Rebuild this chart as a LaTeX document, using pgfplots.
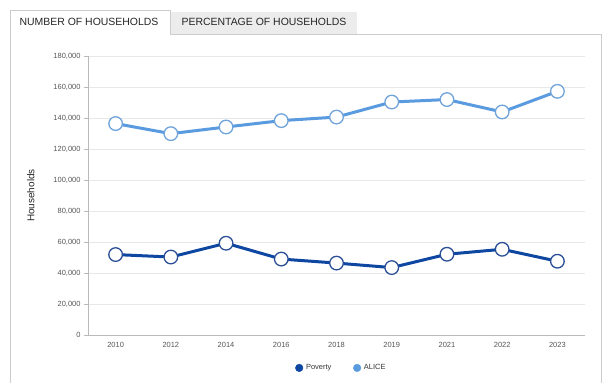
\documentclass[border=0pt]{standalone}
\usepackage{pgfplots}
\pgfplotsset{compat=1.18}
\usepackage{fontspec}
\setmainfont{Liberation Sans}
\definecolor{pov}{HTML}{0D47A1}
\definecolor{povmark}{HTML}{2B4F96}
\definecolor{alice}{HTML}{5A9BE0}
\definecolor{alicemark}{HTML}{6FA3DA}
\definecolor{tickc}{HTML}{555555}
\definecolor{framec}{HTML}{CCCCCC}
\begin{document}
\begin{tikzpicture}[x=1bp,y=1bp]
\path[use as bounding box] (0,0) rectangle (607,383);
% tabs and panel
\fill[gray!15] (171,349) rectangle (357,371);
\draw[framec, line width=0.8bp] (10,0) -- (10,373) -- (170,373) -- (170,349) -- (601,349) -- (601,0);
\node[font=\fontsize{10.5}{12}\selectfont, text=black!85] at (89,361) {NUMBER OF HOUSEHOLDS};
\node[font=\fontsize{10.5}{12}\selectfont, text=black!85] at (264,361) {PERCENTAGE OF HOUSEHOLDS};
\begin{axis}[
  at={(88bp,48bp)}, anchor=south west,
  scale only axis, width=497bp, height=279bp,
  xmin=-0.5, xmax=8.5, ymin=0, ymax=180000,
  xtick={0,...,8},
  xticklabels={2010,2012,2014,2016,2018,2019,2021,2022,2023},
  ytick={0,20000,40000,60000,80000,100000,120000,140000,160000,180000},
  yticklabels={0,{20,000},{40,000},{60,000},{80,000},{100,000},{120,000},{140,000},{160,000},{180,000}},
  scaled y ticks=false,
  axis lines*=left,
  axis line style={gray!55},
  ymajorgrids, grid style={gray!18, line width=0.6bp},
  xtick style={draw=none},
  ytick style={gray!55},
  tick align=outside, major tick length=4bp,
  ticklabel style={font=\fontsize{7.5}{9}\selectfont, text=tickc},
  ylabel={Households},
  ylabel style={at={(axis description cs:-0.115,0.5)}, anchor=center, font=\fontsize{10}{12}\selectfont, text=black!85},
  legend style={at={(axis description cs:0.51,-0.118)}, anchor=center, draw=none, fill=none,
    font=\fontsize{7.5}{9}\selectfont, text=black!80,
    /tikz/every even column/.append style={column sep=20bp},
    /tikz/every odd column/.append style={column sep=1bp}},
  legend columns=2,
]
\addplot[alice, line width=3bp, mark=*, mark size=6.8bp, mark options={fill=white, draw=alicemark, line width=1.3bp}, forget plot]
  coordinates {(0,136400) (1,129900) (2,134200) (3,138300) (4,140600) (5,150300) (6,151900) (7,143900) (8,157200)};
\addplot[pov, line width=3bp, mark=*, mark size=6.8bp, mark options={fill=white, draw=povmark, line width=1.3bp}, forget plot]
  coordinates {(0,51900) (1,50300) (2,59200) (3,49000) (4,46400) (5,43500) (6,52100) (7,55300) (8,47600)};
\addlegendimage{only marks, mark=*, mark size=3.8bp, color=pov}
\addlegendentry{Poverty}
\addlegendimage{only marks, mark=*, mark size=3.8bp, color=alice}
\addlegendentry{ALICE}
\end{axis}
\end{tikzpicture}
\end{document}
